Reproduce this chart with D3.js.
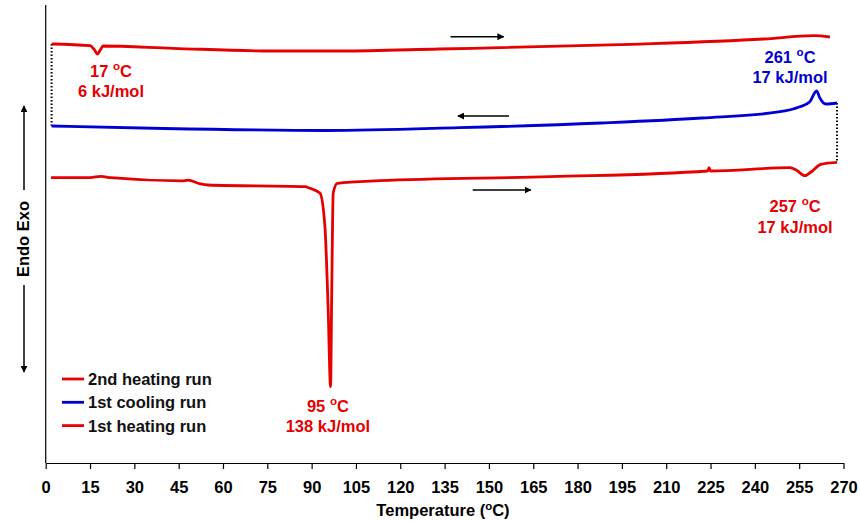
<!DOCTYPE html>
<html>
<head>
<meta charset="utf-8">
<script src="https://cdn.jsdelivr.net/npm/d3@7"></script>
<style>
  body { margin: 0; background: #fff; }
  svg text { font-family: "Liberation Sans", Arial, sans-serif; font-weight: bold; }
</style>
</head>
<body>
<svg id="dsc" width="860" height="521"></svg>
<script>
// temperatures (°C) and heat flow (arbitrary units, endo up)
var heat2_T = [2.0, 15, 16.5, 17.5, 18.5, 19.4, 43, 77, 100, 133, 198, 243, 260, 265.4];
var heat2_Q = [91.48, 91.11, 90.2, 89.3, 90.2, 91.05, 90.55, 89.96, 89.96, 90.39, 91.42, 92.58, 93.3, 93.01];

var cool1_T = [2.0, 40, 95, 140, 188, 222, 248, 255, 258.5, 260.9, 262, 264, 267.8];
var cool1_Q = [73.58, 73.03, 72.6, 73.21, 74.24, 75.33, 76.64, 77.73, 78.82, 81.22, 79.69, 78.38, 78.6];

var heat1_T = [1.8, 15, 18.7, 22, 46, 48.2, 52, 55, 87.7, 89.4, 92.8, 94.5, 95.6, 96.4, 96.8, 97.3, 98.7, 113, 170.7, 224, 224.5, 225, 251.9, 254, 256.9, 259, 262.3, 267.8];
var heat1_Q = [62.29, 62.3, 62.6, 62.3, 61.6, 61.75, 61.0, 60.7, 60.33, 59.98, 58.95, 51.59, 33.41, 16.67, 37.12, 58.95, 61.07, 61.64, 62.51, 63.76, 64.48, 63.76, 64.48, 63.97, 62.73, 63.54, 65.22, 65.66];

var seriesNames = ["2nd heating run", "1st cooling run", "1st heating run"];
var seriesColors = ["#e60000", "#0000d2", "#e60000"];

var xTicks = d3.range(0, 271, 15);

// scan direction arrows: [T start, T end, Q]
var dirArrows = [[137, 155, 93.08], [156.8, 139.5, 75.76], [144.5, 164.2, 59.6]];

// peak labels: T centre, Q of first line, Q of second line, temperature, enthalpy, colour index
var peakT = [22.1, 251.9, 253.6, 95.5];
var peakQ1 = [84.28, 87.4, 54.87, 11.2];
var peakQ2 = [79.91, 82.9, 50.28, 6.83];
var peakTemp = ["17", "261", "257", "95"];
var peakEnth = ["6 kJ/mol", "17 kJ/mol", "17 kJ/mol", "138 kJ/mol"];
var peakCol = [0, 1, 2, 2];

var svg = d3.select("#dsc");

var x = d3.scaleLinear().domain([0, 270]).range([45.7, 843.5]);
var y = d3.scaleLinear().domain([0, 100]).range([463, 5]);

var defs = svg.append("defs");
defs.append("marker")
  .attr("id", "head")
  .attr("viewBox", "0 0 10 10")
  .attr("refX", 9).attr("refY", 5)
  .attr("markerWidth", 7).attr("markerHeight", 7)
  .attr("markerUnits", "userSpaceOnUse")
  .attr("orient", "auto-start-reverse")
  .append("path")
  .attr("d", "M0,0 L10,5 L0,10 z")
  .attr("fill", "#000");

// axes
svg.append("line")
  .attr("x1", x(0)).attr("x2", x(0))
  .attr("y1", y(100)).attr("y2", y(0))
  .attr("stroke", "#000").attr("stroke-width", 1.2);

var xa = svg.append("g")
  .attr("transform", "translate(0," + y(0) + ")")
  .call(d3.axisBottom(x).tickValues(xTicks).tickSize(6).tickPadding(12).tickSizeOuter(0));
xa.select(".domain").attr("stroke-width", 1.2);
xa.selectAll(".tick line").attr("stroke-width", 1.2);
xa.selectAll("text").attr("font-size", 16.5).attr("font-family", "Liberation Sans, Arial, sans-serif").attr("font-weight", "bold");

var xl = svg.append("text")
  .attr("x", 443).attr("y", 516)
  .attr("text-anchor", "middle")
  .attr("font-size", 16.5);
xl.append("tspan").text("Temperature (");
xl.append("tspan").attr("font-size", 11.5).attr("dy", -6.5).text("o");
xl.append("tspan").attr("dy", 6.5).text("C)");

// y label with endo/exo arrows
svg.append("text")
  .attr("transform", "translate(29,239) rotate(-90)")
  .attr("text-anchor", "middle")
  .attr("font-size", 16.5)
  .text("Endo Exo");
svg.append("line")
  .attr("x1", 24).attr("x2", 24).attr("y1", 190).attr("y2", 106)
  .attr("stroke", "#000").attr("stroke-width", 1.5)
  .attr("marker-end", "url(#head)");
svg.append("line")
  .attr("x1", 24).attr("x2", 24).attr("y1", 285).attr("y2", 372)
  .attr("stroke", "#000").attr("stroke-width", 1.5)
  .attr("marker-end", "url(#head)");

// dotted connectors between runs
var connectors = [
  [heat2_T[0], heat2_Q[0], cool1_Q[0]],
  [cool1_T[cool1_T.length - 1], cool1_Q[cool1_Q.length - 1], heat1_Q[heat1_Q.length - 1]]
];
svg.selectAll("line.conn")
  .data(connectors)
  .enter().append("line")
  .attr("class", "conn")
  .attr("x1", function(d) { return x(d[0]); })
  .attr("x2", function(d) { return x(d[0]); })
  .attr("y1", function(d) { return y(d[1]); })
  .attr("y2", function(d) { return y(d[2]); })
  .attr("stroke", "#000").attr("stroke-width", 2)
  .attr("stroke-dasharray", "1.5,2");

// curves
var runs = [
  d3.zip(heat2_T, heat2_Q),
  d3.zip(cool1_T, cool1_Q),
  d3.zip(heat1_T, heat1_Q)
];
var line = d3.line()
  .x(function(d) { return x(d[0]); })
  .y(function(d) { return y(d[1]); })
  .curve(d3.curveMonotoneX);

svg.selectAll("path.run")
  .data(runs)
  .enter().append("path")
  .attr("class", "run")
  .attr("d", line)
  .attr("fill", "none")
  .attr("stroke", function(d, i) { return seriesColors[i]; })
  .attr("stroke-width", 2.8)
  .attr("stroke-linejoin", "round");

// direction arrows
svg.selectAll("line.dir")
  .data(dirArrows)
  .enter().append("line")
  .attr("class", "dir")
  .attr("x1", function(d) { return x(d[0]); })
  .attr("x2", function(d) { return x(d[1]); })
  .attr("y1", function(d) { return y(d[2]); })
  .attr("y2", function(d) { return y(d[2]); })
  .attr("stroke", "#000").attr("stroke-width", 1.6)
  .attr("marker-end", "url(#head)");

// peak annotations
peakT.forEach(function(t, i) {
  var col = seriesColors[peakCol[i]];
  var t1 = svg.append("text")
    .attr("x", x(t)).attr("y", y(peakQ1[i]))
    .attr("text-anchor", "middle")
    .attr("font-size", 16.5)
    .attr("fill", col);
  t1.append("tspan").text(peakTemp[i] + " ");
  t1.append("tspan").attr("font-size", 11.5).attr("dy", -6.5).text("o");
  t1.append("tspan").attr("dy", 6.5).text("C");
  svg.append("text")
    .attr("x", x(t)).attr("y", y(peakQ2[i]))
    .attr("text-anchor", "middle")
    .attr("font-size", 16.5)
    .attr("fill", col)
    .text(peakEnth[i]);
});

// legend
var legend = svg.append("g").attr("transform", "translate(62,379)");
var lg = legend.selectAll("g")
  .data(seriesNames)
  .enter().append("g")
  .attr("transform", function(d, i) { return "translate(0," + (i * 23.3) + ")"; });
lg.append("line")
  .attr("x1", 0).attr("x2", 22)
  .attr("stroke", function(d, i) { return seriesColors[i]; })
  .attr("stroke-width", 2.8);
lg.append("text")
  .attr("x", 26).attr("y", 6)
  .attr("font-size", 16.5)
  .attr("fill", "#111")
  .text(function(d) { return d; });
</script>
</body>
</html>
